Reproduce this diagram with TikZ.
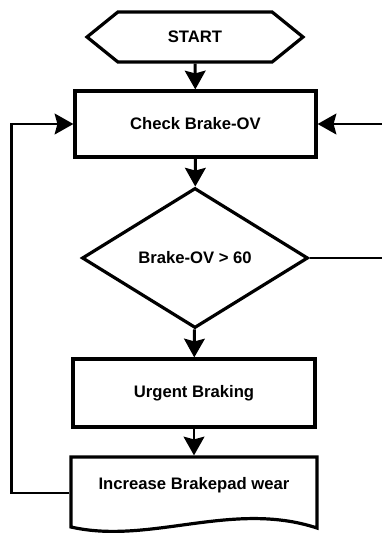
\documentclass[tikz,border=0pt]{standalone}
\usepackage{fontspec}
\setmainfont{Liberation Sans}
\usepackage{tikz}
\usetikzlibrary{arrows.meta,shapes.geometric,shapes.symbols,calc}
\tikzset{
  caja/.style={draw=black,line width=2.4pt,fill=white,font=\bfseries\fontsize{12.5pt}{14pt}\selectfont,inner sep=0pt},
  inicio/.style={caja,shape=signal,signal to=east and west,signal pointer angle=78,minimum width=162pt,minimum height=37.5pt},
  rombo/.style={caja,shape=diamond,minimum width=169.5pt,minimum height=105pt},
  flecha/.style={-{Stealth[length=14pt,width=15.5pt,inset=2pt]},line width=2.2pt},
  linea/.style={line width=2.2pt}
}

\begin{document}
\begin{tikzpicture}[x=0.75pt,y=-0.75pt]
\useasboundingbox (0,0) rectangle (382,533);
% nodes
\node[inicio] (start) at (195,37) {START};
\node[caja,minimum width=180.75pt,minimum height=49.5pt] (check) at (195.5,124) {Check Brake-OV};
\node[rombo] (cond) at (195,258) {Brake-OV > 60};
\node[caja,minimum width=181.5pt,minimum height=51pt] (urgent) at (194,393) {Urgent Braking};
% document shape
\draw[line width=2.4pt,fill=white] (71,457) -- (317,457) -- (317,528) .. controls (232,500) and (150,545) .. (71,527) -- cycle;
\node[caja,draw=none,fill=none,minimum width=185.25pt,minimum height=42pt] (wear) at (194,485) {Increase Brakepad wear};
% edge ends
\coordinate (re1) at (382,258);
\coordinate (re2) at (382,124);
% connectors
\draw[flecha] (start) -- (check);
\draw[flecha] (check) -- (cond);
\draw[flecha] (cond) -- (urgent);
\draw[flecha] (urgent) -- (wear);
\draw[flecha] ([yshift=-6pt]wear.west) -- ++(-57,0) |- (check.west);
\draw[line width=1.6pt] (cond.east) -- (re1);
\draw[flecha] (re2) -- (check.east);
\end{tikzpicture}
\end{document}
